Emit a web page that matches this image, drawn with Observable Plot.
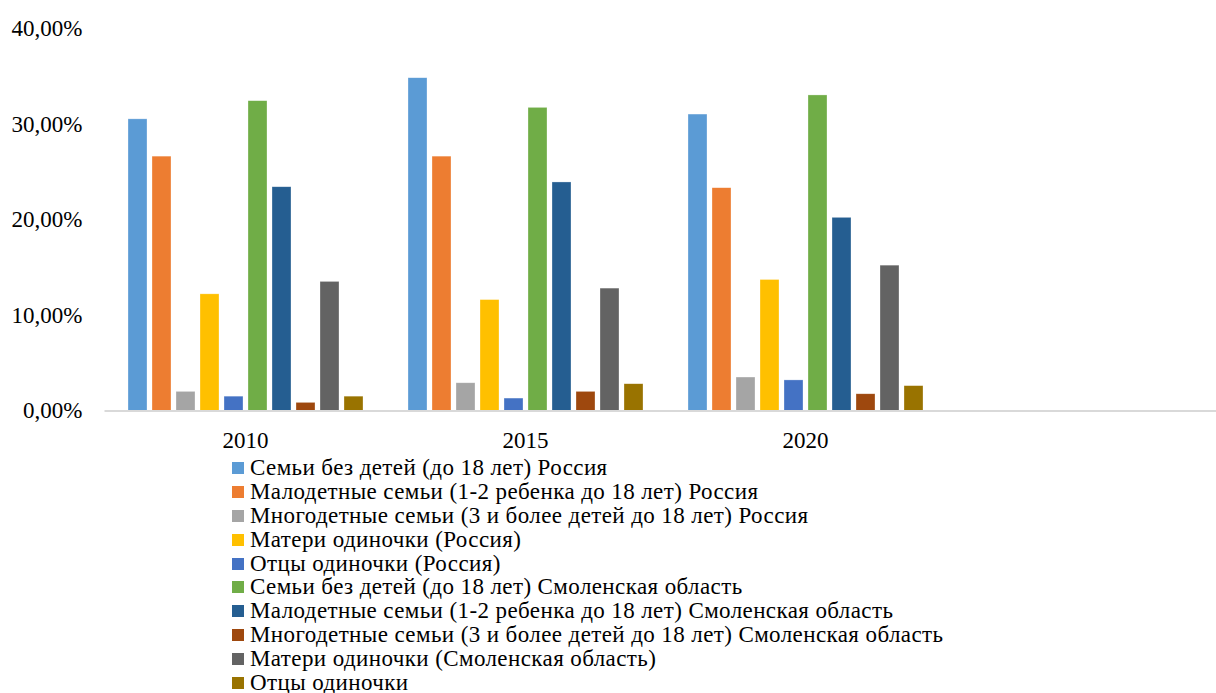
<!DOCTYPE html>
<html>
<head>
<meta charset="utf-8">
<script src="https://cdn.jsdelivr.net/npm/d3@7"></script>
<script src="https://cdn.jsdelivr.net/npm/@observablehq/plot@0.6"></script>
<style>
  html, body { margin: 0; padding: 0; background: #fff; }
  #chart { width: 1216px; }
  #legend { margin-left: 232px; padding-top: 1px; color: #000; }
  .row { display: flex; align-items: center; height: 23.9px; white-space: nowrap; }
  .sw { width: 12px; height: 12px; margin-right: 6px; flex: none; }
  svg text { font-family: 'Liberation Serif', serif; }
</style>
</head>
<body>
<div id="chart"></div>
<div id="legend" style="font-family: 'Liberation Serif', serif; font-size: 23px; letter-spacing: 0.4px;"></div>
<script>
const years = ["2010", "2015", "2020", ""];
const series = [
  "Семьи без детей (до 18 лет) Россия",
  "Малодетные семьи (1-2 ребенка до 18 лет) Россия",
  "Многодетные семьи (3 и более детей до 18 лет) Россия",
  "Матери одиночки (Россия)",
  "Отцы одиночки (Россия)",
  "Семьи без детей (до 18 лет) Смоленская область",
  "Малодетные семьи (1-2 ребенка до 18 лет) Смоленская область",
  "Многодетные семьи (3 и более детей до 18 лет) Смоленская область",
  "Матери одиночки (Смоленская область)",
  "Отцы одиночки"
];
const colors = ["#5B9BD5", "#ED7D31", "#A5A5A5", "#FFC000", "#4472C4", "#70AD47", "#255E91", "#9E480E", "#636363", "#997300"];
const values2010 = [30.5, 26.6, 2.0, 12.2, 1.5, 32.4, 23.4, 0.85, 13.5, 1.5];
const values2015 = [34.8, 26.6, 2.9, 11.6, 1.3, 31.7, 23.9, 2.0, 12.8, 2.8];
const values2020 = [31.0, 23.3, 3.5, 13.7, 3.2, 33.0, 20.2, 1.75, 15.2, 2.6];
const yTicks = [0, 10, 20, 30, 40];

const valuesByYear = {"2010": values2010, "2015": values2015, "2020": values2020};
const data = [];
for (const y of ["2010", "2015", "2020"]) {
  valuesByYear[y].forEach((v, i) => data.push({year: y, series: series[i], value: v}));
}

const fmt = d => d.toFixed(2).replace(".", ",") + "%";

const chart = Plot.plot({
  width: 1216,
  height: 455,
  marginLeft: 105,
  marginRight: -9,
  marginTop: 28,
  marginBottom: 44.5,
  style: {fontFamily: "Liberation Serif", fontSize: "23px", color: "#000", background: "#fff"},
  fx: {domain: years, padding: 0, axis: null},
  x: {domain: series, paddingInner: 0.22, paddingOuter: 0.82, axis: null},
  y: {domain: [0, 40], axis: null},
  color: {domain: series, range: colors},
  marks: [
    Plot.barY(data, {fx: "year", x: "series", y: "value", fill: "series", stroke: "#fff", strokeOpacity: 0.5, strokeWidth: 0.6}),
    Plot.frame({anchor: "bottom", facet: "super", stroke: "#d9d9d9", strokeWidth: 2}),
    Plot.axisY(yTicks, {anchor: "left", tickSize: 0, tickPadding: 23, tickFormat: fmt, fontSize: 23, label: null}),
    Plot.axisFx({anchor: "bottom", tickSize: 0, tickPadding: 21, fontSize: 23, label: null})
  ]
});
document.getElementById("chart").appendChild(chart);

const legend = document.getElementById("legend");
series.forEach((s, i) => {
  const row = document.createElement("div");
  row.className = "row";
  const sw = document.createElement("span");
  sw.className = "sw";
  sw.style.background = colors[i];
  const t = document.createElement("span");
  t.textContent = s;
  row.appendChild(sw);
  row.appendChild(t);
  legend.appendChild(row);
});
</script>
</body>
</html>
